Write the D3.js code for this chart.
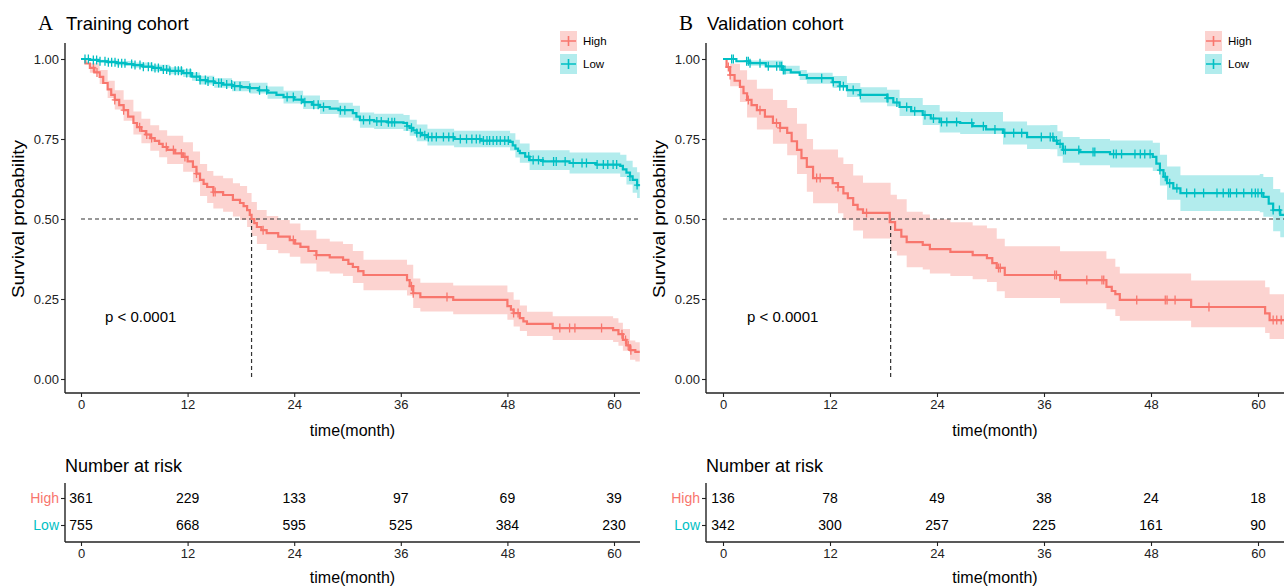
<!DOCTYPE html>
<html>
<head>
<meta charset="utf-8">
<script src="https://cdn.jsdelivr.net/npm/d3@7"></script>
<style>
    body { margin: 0; background: #fff; }
    text { font-family: Arial, "Liberation Sans", sans-serif; }
</style>
</head>
<body>
<svg id="chart" width="1284" height="587"></svg>
<script>
// Declare data.
const GROUPS = ['High', 'Low'];
const X_TICKS = [0, 12, 24, 36, 48, 60];
const Y_TICKS = [0, 0.25, 0.5, 0.75, 1];
const RISK_TIMES = [0, 12, 24, 36, 48, 60];

// Training cohort, High risk: curve knots
const TIME_A_HIGH = [0, 0.5, 1.0, 1.5, 2.1, 2.5, 3.0, 3.4, 3.8, 4.3, 4.8, 5.3, 5.9, 6.3, 6.8, 7.3, 7.8, 8.3, 8.8, 9.2, 9.7, 10.6, 11.5, 12.0, 12.6, 13.0, 13.4, 13.8, 14.2, 14.9, 16.0, 17.1, 17.9, 18.3, 18.7, 19.0, 19.2, 19.5, 19.8, 20.3, 20.9, 22.2, 23.5, 24.1, 24.7, 25.6, 26.5, 28.0, 29.5, 30.1, 30.6, 31.2, 31.8, 36.7, 37.0, 37.4, 38.2, 41.9, 48.0, 48.4, 48.7, 49.4, 49.8, 50.2, 53.1, 59.9, 60.5, 61.0, 61.4, 61.8, 62.4, 62.9];
const SURV_A_HIGH = [1, .986, .972, .958, .944, .925, .905, .888, .872, .856, .84, .82, .80, .787, .775, .764, .753, .744, .735, .725, .716, .705, .694, .68, .663, .642, .622, .61, .60, .584, .575, .56, .55, .54, .528, .513, .50, .487, .475, .465, .456, .445, .434, .423, .413, .40, .387, .38, .372, .36, .35, .337, .325, .309, .29, .268, .256, .247, .228, .217, .206, .19, .18, .172, .159, .153, .14, .122, .105, .09, .085, .085];
// Training cohort, High risk: confidence band
const BAND_TIME_A_HIGH = [0, 1.0, 2.1, 3.0, 3.8, 4.8, 5.9, 6.8, 7.8, 8.8, 9.7, 11.5, 12.6, 13.4, 14.2, 14.9, 16.0, 17.1, 17.9, 18.7, 19.2, 19.8, 20.9, 22.2, 23.5, 24.7, 26.5, 28.0, 29.5, 30.6, 31.8, 36.7, 37.4, 38.2, 41.9, 48.0, 48.7, 49.4, 50.2, 53.1, 59.9, 60.5, 61.0, 61.8, 62.4, 62.9];
const UPPER_A_HIGH = [1, .987, .966, .932, .902, .873, .836, .813, .793, .777, .76, .74, .711, .672, .65, .635, .627, .612, .603, .581, .553, .528, .509, .497, .486, .465, .438, .43, .422, .40, .373, .357, .314, .301, .292, .271, .248, .23, .21, .196, .19, .176, .156, .12, .115, .115];
const LOWER_A_HIGH = [1, .957, .922, .878, .842, .807, .764, .737, .713, .693, .672, .648, .615, .572, .55, .533, .523, .508, .497, .475, .447, .422, .403, .393, .382, .361, .336, .33, .322, .30, .277, .261, .222, .211, .202, .185, .164, .15, .134, .122, .116, .104, .088, .06, .055, .055];
const CENSOR_A_HIGH = [1.4, 1.8, 3.8, 4.8, 6.6, 7.4, 7.95, 9.6, 10.4, 11.3, 11.7, 13.0, 14.9, 15.1, 20.5, 23.9, 26.5, 37.2, 37.4, 41.2, 48.7, 49.2, 53.9, 55.0, 55.6, 58.6, 60.9, 61.3, 61.6, 61.9];

// Training cohort, Low risk: curve knots
const TIME_A_LOW = [0, 1, 2, 3, 4, 5, 5.9, 7, 8, 9, 10, 11.5, 12.5, 13.4, 14.2, 15, 16, 17, 18, 19, 20, 21, 22, 22.8, 24, 25, 26, 26.9, 28, 29, 30.6, 31, 31.4, 33, 34.5, 36.3, 36.7, 37.0, 37.4, 37.8, 38.4, 39.0, 42, 45, 48.3, 48.6, 48.9, 49.2, 49.4, 50, 50.5, 52, 55, 58, 60.7, 61, 61.4, 61.8, 62.1, 62.6, 62.9];
const SURV_A_LOW = [1, .997, .993, .99, .987, .984, .981, .976, .972, .967, .963, .956, .945, .934, .93, .925, .92, .915, .912, .909, .902, .895, .888, .881, .873, .865, .857, .85, .845, .84, .831, .82, .809, .805, .802, .80, .79, .785, .777, .769, .762, .756, .75, .745, .741, .73, .72, .713, .706, .695, .684, .68, .675, .67, .666, .655, .645, .633, .622, .606, .606];
// Training cohort, Low risk: confidence band
const BAND_TIME_A_LOW = [0, 2, 4, 5.9, 8, 10, 11.5, 12.5, 13.4, 15, 17, 19, 21, 22.8, 25, 26.9, 29, 30.6, 31.4, 33, 36.3, 37.0, 37.8, 39.0, 42, 48.3, 48.9, 49.4, 50.5, 55, 60.7, 61.4, 62.1, 62.6, 62.9];
const UPPER_A_LOW = [1, .998, .994, .989, .982, .974, .968, .958, .948, .94, .931, .926, .914, .901, .886, .872, .863, .854, .833, .829, .825, .81, .795, .782, .776, .768, .748, .736, .715, .708, .701, .682, .662, .646, .646];
const LOWER_A_LOW = [1, .988, .98, .973, .962, .952, .944, .932, .92, .91, .899, .892, .876, .861, .844, .828, .817, .808, .785, .781, .775, .76, .743, .73, .724, .714, .692, .676, .653, .642, .631, .608, .582, .566, .566];
const CENSOR_A_LOW = [0.45, 0.83, 1.39, 1.76, 2.14, 2.7, 3.08, 3.45, 3.83, 4.2, 4.58, 4.95, 5.7, 6.08, 6.64, 7.02, 7.58, 7.95, 8.33, 8.71, 9.27, 9.64, 10.0, 10.6, 10.96, 11.3, 11.9, 12.3, 13.0, 13.4, 14.0, 14.3, 14.9, 15.5, 15.8, 16.4, 16.96, 17.3, 17.9, 19.0, 20.1, 20.9, 23.2, 23.9, 24.8, 25.2, 26.2, 26.7, 27.3, 29.2, 29.7, 31.8, 32.5, 33.3, 33.8, 34.6, 35.0, 35.3, 36.7, 37.2, 37.8, 38.2, 38.7, 39.1, 39.5, 40.0, 40.8, 41.4, 41.9, 42.7, 43.4, 44.0, 44.5, 44.9, 45.3, 45.7, 46.0, 46.4, 46.8, 47.2, 47.7, 48.1, 50.4, 50.9, 51.5, 52.0, 53.2, 53.5, 54.5, 55.4, 56.4, 56.9, 58.1, 58.8, 59.3, 59.9, 60.3, 61.8, 62.6];

// Validation cohort, High risk: curve knots
const TIME_B_HIGH = [0, 0.4, 0.8, 1.3, 1.9, 2.3, 2.7, 3.2, 3.8, 4.7, 5.6, 6.4, 7.2, 7.7, 8.3, 8.8, 9.4, 10.1, 12.3, 12.9, 13.5, 14.0, 14.6, 15.1, 15.7, 18.7, 19.3, 20.0, 20.6, 22.4, 23.2, 25.5, 28.0, 29.6, 30.2, 30.7, 31.6, 37.8, 43.0, 43.6, 44.0, 44.5, 52.5, 60.8, 61.3, 63];
const SURV_B_HIGH = [1, .975, .95, .932, .913, .893, .872, .856, .84, .82, .80, .785, .769, .743, .716, .69, .663, .628, .612, .60, .58, .565, .544, .53, .519, .49, .466, .445, .428, .419, .406, .397, .387, .378, .362, .347, .325, .309, .288, .275, .265, .247, .225, .205, .184, .184];
// Validation cohort, High risk: confidence band
const BAND_TIME_B_HIGH = [0, 0.8, 1.9, 2.7, 3.8, 5.6, 7.2, 8.3, 9.4, 10.1, 12.9, 13.5, 14.6, 15.7, 18.8, 19.5, 20.6, 22.4, 23.2, 25.5, 28.0, 29.6, 30.7, 31.6, 37.8, 43.0, 44.0, 44.5, 52.5, 60.8, 61.3, 63];
const UPPER_B_HIGH = [1, .985, .965, .935, .907, .872, .847, .798, .75, .717, .692, .672, .636, .613, .576, .562, .523, .514, .499, .49, .48, .471, .438, .415, .399, .376, .351, .33, .308, .287, .265, .265];
const LOWER_B_HIGH = [1, .915, .866, .817, .78, .735, .699, .641, .585, .549, .518, .498, .464, .439, .40, .386, .349, .342, .33, .322, .312, .303, .274, .253, .237, .218, .197, .182, .162, .144, .125, .125];
const CENSOR_B_HIGH = [0.6, 0.8, 2.84, 4.15, 6.0, 6.4, 10.5, 10.9, 12.9, 16.1, 30.9, 31.1, 37.2, 37.4, 40.8, 42.5, 42.7, 46.4, 49.6, 49.8, 50.7, 54.5, 61.7, 62.1, 62.6];

// Validation cohort, Low risk: curve knots
const TIME_B_LOW = [0, 1.5, 3, 4.8, 6.7, 7.6, 8.6, 9.4, 12.3, 13.1, 13.9, 15.4, 18.4, 19.1, 19.8, 21.1, 22.4, 23.3, 24.3, 26.6, 28, 29.5, 31.4, 34.1, 36.7, 37.1, 37.5, 38.1, 40, 43.4, 48.2, 48.6, 49, 49.4, 49.8, 50.5, 51.3, 60.2, 60.6, 61.2, 61.7, 62.5, 63];
const SURV_B_LOW = [1, .993, .987, .977, .966, .958, .95, .94, .928, .915, .903, .888, .878, .864, .85, .837, .825, .814, .803, .80, .79, .78, .769, .756, .756, .745, .735, .716, .709, .703, .694, .673, .653, .632, .612, .596, .581, .581, .569, .548, .528, .513, .513];
// Validation cohort, Low risk: confidence band
const BAND_TIME_B_LOW = [0, 3, 6.7, 8.6, 9.4, 12.3, 13.9, 15.4, 18.4, 19.8, 22.4, 24.3, 26.6, 31.4, 34.1, 36.7, 37.5, 38.1, 40, 43.4, 48.2, 49, 49.8, 51.3, 60.2, 60.6, 61.7, 62.5, 63];
const UPPER_B_LOW = [1, .995, .979, .966, .957, .947, .925, .912, .904, .878, .856, .836, .834, .805, .793, .794, .774, .756, .75, .745, .738, .701, .664, .637, .641, .631, .594, .583, .583];
const LOWER_B_LOW = [1, .979, .953, .934, .923, .909, .881, .864, .852, .822, .794, .77, .766, .733, .719, .718, .696, .676, .668, .661, .65, .605, .56, .525, .521, .507, .462, .443, .443];
const CENSOR_B_LOW = [0.97, 1.16, 2.65, 2.84, 3.03, 4.15, 5.08, 6.02, 6.39, 6.58, 6.77, 6.95, 11.07, 12.37, 13.1, 13.5, 14.6, 15.4, 18.4, 18.5, 19.5, 20.6, 21.5, 22.65, 23.6, 24.5, 25.1, 26.2, 27.9, 29.2, 30.5, 31.6, 32.6, 33.5, 35.7, 36.7, 37.0, 37.4, 37.8, 38.2, 38.4, 39.9, 41.5, 41.7, 43.8, 44.1, 44.7, 46.2, 46.8, 47.3, 47.9, 49.0, 49.6, 50.1, 50.9, 52.0, 52.9, 53.9, 55.4, 56.1, 56.7, 56.9, 57.6, 58.4, 59.3, 59.7, 60.0, 60.4, 61.7, 62.4];

const RISK_A_HIGH = [361, 229, 133, 97, 69, 39];
const RISK_A_LOW = [755, 668, 595, 525, 384, 230];
const RISK_B_HIGH = [136, 78, 49, 38, 24, 18];
const RISK_B_LOW = [342, 300, 257, 225, 161, 90];

const MEDIAN_A = 19.2;
const MEDIAN_B = 18.8;

const LINE_COLOR = {High: '#F8766D', Low: '#00BFC4'};
const FILL_COLOR = {High: '#FCD3D0', Low: '#B2ECED'};

// Panels built from the arrays above.
const PANELS = [
    {
        letter: 'A', title: 'Training cohort', axisX: 65, x0: 81, x60: 614, right: 640,
        legendX: 560, pX: 105, median: MEDIAN_A,
        series: [
            {group: 'High', time: TIME_A_HIGH, surv: SURV_A_HIGH, bandTime: BAND_TIME_A_HIGH, upper: UPPER_A_HIGH, lower: LOWER_A_HIGH, censor: CENSOR_A_HIGH, risk: RISK_A_HIGH},
            {group: 'Low', time: TIME_A_LOW, surv: SURV_A_LOW, bandTime: BAND_TIME_A_LOW, upper: UPPER_A_LOW, lower: LOWER_A_LOW, censor: CENSOR_A_LOW, risk: RISK_A_LOW}
        ]
    },
    {
        letter: 'B', title: 'Validation cohort', axisX: 706, x0: 723, x60: 1258, right: 1284,
        legendX: 1205, pX: 747, median: MEDIAN_B,
        series: [
            {group: 'High', time: TIME_B_HIGH, surv: SURV_B_HIGH, bandTime: BAND_TIME_B_HIGH, upper: UPPER_B_HIGH, lower: LOWER_B_HIGH, censor: CENSOR_B_HIGH, risk: RISK_B_HIGH},
            {group: 'Low', time: TIME_B_LOW, surv: SURV_B_LOW, bandTime: BAND_TIME_B_LOW, upper: UPPER_B_LOW, lower: LOWER_B_LOW, censor: CENSOR_B_LOW, risk: RISK_B_LOW}
        ]
    }
];

const svg = d3.select('#chart');
const AXIS_COLOR = '#222';
const FONT = 'Arial, "Liberation Sans", sans-serif';

// Survival value of a step curve at time t.
const stepAt = (times, surv, t) => surv[Math.max(0, d3.bisectRight(times, t) - 1)];

const styleTicks = (a, size, color) => {
    a.selectAll('.tick line').attr('stroke', AXIS_COLOR).attr('stroke-width', 1.1);
    a.selectAll('.tick text')
        .style('fill', color)
        .style('font-size', size)
        .style('font-family', FONT);
};

const drawPanel = (p, idx) => {
    const g = svg.append('g');
    const x = d3.scaleLinear().domain([0, 60]).range([p.x0, p.x60]);
    const y = d3.scaleLinear().domain([0, 1]).range([379, 59]);

    // Clip region of the plotting area.
    const clipId = 'clip' + idx;
    svg.append('clipPath').attr('id', clipId)
        .append('rect')
        .attr('x', p.axisX + 1).attr('y', 40)
        .attr('width', p.right - p.axisX).attr('height', 352);
    const plot = g.append('g').attr('clip-path', `url(#${clipId})`);

    // Confidence bands.
    p.series.forEach(s => {
        const pts = s.bandTime.map((t, i) => ({t, lo: s.lower[i], hi: s.upper[i]}));
        plot.append('path')
            .datum(pts)
            .attr('d', d3.area().curve(d3.curveStepAfter)
                .x(d => x(d.t)).y0(d => y(d.lo)).y1(d => y(d.hi)))
            .attr('fill', FILL_COLOR[s.group]);
    });

    // Median lines.
    plot.append('line')
        .attr('x1', x(0)).attr('x2', p.right)
        .attr('y1', y(0.5)).attr('y2', y(0.5))
        .attr('stroke', '#333').attr('stroke-width', 1.2).attr('stroke-dasharray', '4,3');
    plot.append('line')
        .attr('x1', x(p.median)).attr('x2', x(p.median))
        .attr('y1', y(0.5)).attr('y2', y(0))
        .attr('stroke', '#333').attr('stroke-width', 1.2).attr('stroke-dasharray', '4,3');

    // Survival curves and censor marks.
    p.series.forEach(s => {
        const pts = s.time.map((t, i) => ({t, s: s.surv[i]}));
        plot.append('path')
            .datum(pts)
            .attr('d', d3.line().curve(d3.curveStepAfter).x(d => x(d.t)).y(d => y(d.s)))
            .attr('fill', 'none')
            .attr('stroke', LINE_COLOR[s.group])
            .attr('stroke-width', 2.2);

        plot.selectAll(null)
            .data(s.censor)
            .join('path')
            .attr('d', t => {
                const cx = x(t), cy = y(stepAt(s.time, s.surv, t));
                return `M${cx},${cy - 4.5}V${cy + 4.5}M${cx - 3},${cy}H${cx + 3}`;
            })
            .attr('stroke', LINE_COLOR[s.group])
            .attr('stroke-width', 1.3);
    });

    // Axes.
    const yAxisG = g.append('g')
        .attr('transform', `translate(${p.axisX},0)`)
        .call(d3.axisLeft(y).tickValues(Y_TICKS).tickSize(4).tickPadding(2).tickFormat(d3.format('.2f')))
        .call(a => a.select('.domain').remove());
    yAxisG.append('line').attr('y1', 43).attr('y2', 393).attr('stroke', AXIS_COLOR).attr('stroke-width', 1.4);

    const xAxisG = g.append('g')
        .attr('transform', 'translate(0,393)')
        .call(d3.axisBottom(x).tickValues(X_TICKS).tickSize(4).tickPadding(3))
        .call(a => a.select('.domain').remove());
    xAxisG.append('line').attr('x1', p.axisX).attr('x2', p.right).attr('stroke', AXIS_COLOR).attr('stroke-width', 1.4);

    styleTicks(yAxisG, '13px', '#222');
    styleTicks(xAxisG, '13px', '#222');

    // Axis titles.
    g.append('text')
        .attr('x', (p.axisX + p.right) / 2).attr('y', 436)
        .attr('text-anchor', 'middle')
        .style('font-size', '16px')
        .text('time(month)');
    g.append('text')
        .attr('transform', `translate(${p.axisX - 41},219) rotate(-90)`)
        .attr('text-anchor', 'middle')
        .attr('textLength', 158).attr('lengthAdjust', 'spacingAndGlyphs')
        .style('font-size', '16px')
        .text('Survival probability');

    // Panel title.
    g.append('text')
        .attr('x', p.axisX - 27).attr('y', 30)
        .style('font-family', '"Times New Roman", "Liberation Serif", serif')
        .style('font-size', '21px')
        .text(p.letter);
    g.append('text')
        .attr('x', p.axisX + 1).attr('y', 30)
        .style('font-size', '18.5px')
        .text(p.title);

    // p-value.
    g.append('text')
        .attr('x', p.pX).attr('y', 322)
        .style('font-size', '15px')
        .text('p < 0.0001');

    // Legend.
    p.series.forEach((s, i) => {
        const ly = 31 + i * 23, cy = ly + 10;
        const lg = g.append('g');
        lg.append('rect').attr('x', p.legendX).attr('y', ly).attr('width', 17).attr('height', 20)
            .attr('fill', FILL_COLOR[s.group]);
        lg.append('path')
            .attr('d', `M${p.legendX + 1},${cy}H${p.legendX + 16}M${p.legendX + 8.5},${cy - 5}V${cy + 5}`)
            .attr('stroke', LINE_COLOR[s.group]).attr('stroke-width', 1.6);
        lg.append('text')
            .attr('x', p.legendX + 23).attr('y', cy).attr('dy', '0.36em')
            .style('font-size', '11.5px')
            .text(s.group);
    });

    // Number at risk table.
    const rowY = d3.scalePoint().domain(GROUPS).range([498, 525]);
    g.append('text')
        .attr('x', p.axisX).attr('y', 472)
        .style('font-size', '18px')
        .text('Number at risk');

    const tAxisG = g.append('g')
        .attr('transform', 'translate(0,542)')
        .call(d3.axisBottom(x).tickValues(X_TICKS).tickSize(4).tickPadding(3))
        .call(a => a.select('.domain').remove());
    tAxisG.append('line').attr('x1', p.axisX).attr('x2', p.right).attr('stroke', AXIS_COLOR).attr('stroke-width', 1.4);

    const rAxisG = g.append('g')
        .attr('transform', `translate(${p.axisX},0)`)
        .call(d3.axisLeft(rowY).tickSize(4).tickPadding(2))
        .call(a => a.select('.domain').remove());
    rAxisG.append('line').attr('y1', 483).attr('y2', 542).attr('stroke', AXIS_COLOR).attr('stroke-width', 1.4);

    styleTicks(tAxisG, '13px', '#222');
    styleTicks(rAxisG, '14px', d => LINE_COLOR[d]);

    g.append('text')
        .attr('x', (p.axisX + p.right) / 2).attr('y', 583)
        .attr('text-anchor', 'middle')
        .style('font-size', '16px')
        .text('time(month)');

    p.series.forEach(s => {
        g.selectAll(null)
            .data(RISK_TIMES.map((t, i) => ({t, n: s.risk[i]})))
            .join('text')
            .attr('x', d => x(d.t)).attr('y', rowY(s.group)).attr('dy', '0.36em')
            .attr('text-anchor', 'middle')
            .style('font-size', '14px')
            .text(d => d.n);
    });
};

PANELS.forEach(drawPanel);
</script>
</body>
</html>
